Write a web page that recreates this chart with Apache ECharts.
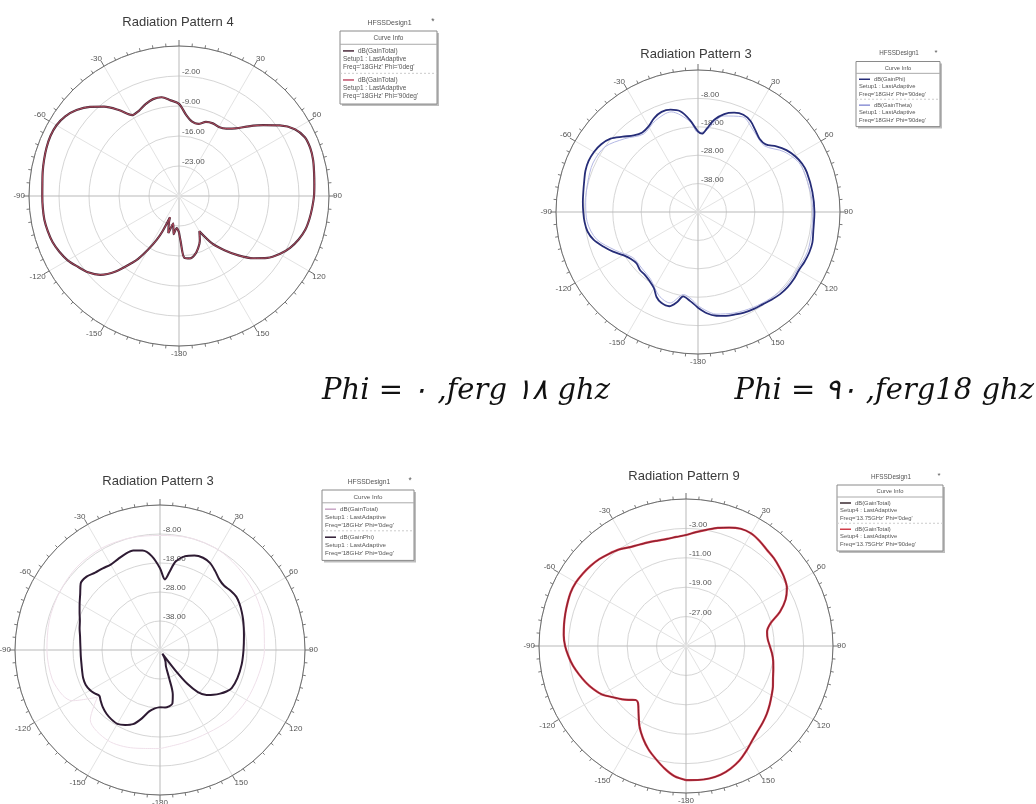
<!DOCTYPE html>
<html><head><meta charset="utf-8">
<script src="https://cdn.jsdelivr.net/npm/echarts@6/dist/echarts.min.js"></script>
<style>html,body{margin:0;padding:0;background:#fff}#c{width:1036px;height:804px}</style>
</head><body><div id="c"></div>
<script>
// ---------- DATA (angle in degrees, gain in dB) ----------
// Radiation Pattern 4 (top-left), Phi = 0
const P4_ANGLES = [-180,-176,-172,-168,-164,-160,-157,-155,-153,-150,-147,-145,-140,-135,-130,-125,-120,-115,-110,-105,-100,-95,-90,-85,-80,-75,-70,-65,-60,-55,-50,-45,-40,-35,-30,-25,-20,-15,-10,-5,0,5,10,15,20,25,30,35,40,45,50,55,60,65,70,75,80,85,90,95,100,105,110,115,120,125,130,135,140,145,150,155,160,165,170,175,178,180];
const P4_GAIN = [-21.5,-22.5,-21,-23.5,-21,-23,-24.6,-21,-18.5,-15.5,-12.5,-11,-7,-4,-2.3,-1.2,0,0.8,1.4,1.7,1.9,1.9,1.9,2.0,2.3,2.6,2.9,3.1,3.0,2.4,1.2,-0.6,-2.8,-5.5,-8.2,-8.0,-7.2,-6.6,-6.6,-7.6,-8.5,-11,-12.4,-12.6,-11.6,-11.3,-11.4,-10.8,-9.4,-7,-4.3,-1.3,1.2,2.4,2.6,2.4,2.0,1.7,1.5,1.2,0.9,0.5,-0.3,-1.4,-2.9,-4.8,-7.4,-10.4,-13.5,-16.4,-20.5,-18.5,-17,-15.8,-15.2,-15.5,-19.5,-21.5];

// Radiation Pattern 3 (top-right), Phi = 90
const P3A_ANGLES = [-180,-175,-170,-167,-163,-158,-154,-150,-145,-140,-135,-130,-125,-120,-115,-110,-105,-100,-95,-90,-85,-80,-75,-70,-65,-60,-55,-50,-45,-40,-35,-30,-25,-20,-15,-10,-5,0,3,6,10,15,20,25,30,35,40,45,50,55,60,65,70,80,90,100,105,110,115,120,125,130,135,140,145,150,155,160,165,170,175,180];
const P3A_GAIN_PHI = [-14.3,-16.5,-17.8,-15.5,-13.3,-13.5,-14.7,-17,-18.3,-19,-19.1,-19.8,-19.2,-17.6,-15,-12.5,-10,-8.5,-7.9,-7.6,-7.3,-7.0,-6.5,-5.8,-5.5,-5.7,-6.4,-7.8,-10.5,-12.8,-13.8,-13.2,-11.5,-10.5,-10.7,-12,-15.5,-19.6,-20.4,-18.5,-15,-12.3,-10.8,-10.2,-11,-12.8,-14.3,-14.3,-12,-10,-8.6,-7.6,-7.2,-7.1,-7.0,-6.8,-6.3,-6.3,-6.6,-7.0,-6.8,-6.8,-7.1,-7.7,-8.3,-8.6,-9.0,-9.6,-10.1,-10.9,-12.2,-14.3];
const P3A_ANGLES_B = [-180,-170,-163,-155,-145,-135,-125,-115,-105,-95,-85,-75,-65,-55,-45,-35,-25,-15,-5,0,5,15,25,35,45,55,65,80,90,100,110,120,130,140,150,160,170,180];
const P3A_GAIN_THETA = [-15,-18.5,-14.5,-15.5,-19,-20,-20,-16,-11,-8.8,-8.3,-7.8,-7.2,-8,-11.5,-14.5,-12.5,-11.5,-16,-20,-19.5,-13,-11,-13.5,-15,-11,-8.3,-7.8,-7.6,-7.4,-7,-7.6,-7.5,-8.3,-9.2,-10.2,-11.5,-15];

// Radiation Pattern 3 (bottom-left)
const P3B_ANGLES = [-180,-175,-170,-165,-160,-155,-150,-145,-140,-135,-130,-127,-123,-120,-115,-110,-105,-100,-95,-90,-85,-80,-75,-70,-65,-60,-55,-50,-45,-40,-35,-30,-25,-20,-15,-10,-5,0,4,7,10,15,20,25,30,35,40,45,50,55,60,65,70,75,80,90,100,110,118,122,126,130,134,138,141,143,145,147,150,155,160,162,164,167,171,175,180];
const P3B_GAIN_PHI = [-28.3,-27.8,-26.5,-23.5,-20.8,-19.5,-18.6,-18.8,-19.3,-20.1,-21.2,-21.8,-20.8,-20.2,-19.7,-19.8,-20.2,-20.5,-20.6,-20.6,-20.4,-20,-19.3,-18.6,-17.4,-16,-14.4,-12.3,-12.2,-13.2,-13.6,-14,-13.5,-12.8,-12.5,-13.2,-15.5,-19.8,-23.6,-20.8,-17,-14.5,-13.3,-12.9,-13.4,-14.8,-16.2,-16.7,-16.2,-15.9,-16.3,-16.9,-17.5,-18.1,-18.6,-19.2,-19.4,-19.6,-20,-21,-22.4,-24,-25.7,-28.5,-33,-39,-45,-46.5,-45,-43.5,-42,-38,-32,-29,-28.3,-28.1,-28.3];
const P3B_ANGLES_T = [-180,-165,-150,-135,-127,-120,-115,-105,-90,-75,-60,-45,-30,-15,0,15,30,45,60,75,90,105,120,135,150,165,180];
const P3B_GAIN_TOTAL = [-14,-13,-12,-14,-21,-13,-11,-9.5,-9,-8.5,-8,-7.5,-7.5,-8,-8.5,-8,-8,-9,-10,-11,-12,-13,-13.5,-14,-15,-15,-14];

// Radiation Pattern 9 (bottom-right)
const P9_ANGLES = [-180,-175,-170,-165,-160,-155,-150,-145,-140,-137,-134,-130,-125,-120,-115,-110,-105,-100,-95,-90,-85,-80,-75,-70,-65,-60,-55,-50,-45,-40,-35,-30,-25,-20,-15,-10,-5,0,5,10,15,20,25,30,35,40,45,50,55,60,65,70,75,80,85,90,95,100,105,110,115,120,125,130,135,140,145,150,155,160,165,170,175,180];
const P9_GAIN = [1.5,0.6,-1.2,-3.2,-5.1,-7.3,-9.7,-12.5,-14.7,-14.9,-13.9,-12.4,-10.7,-8.6,-7.2,-6,-4.9,-3.8,-2.9,-2.1,-1.6,-1.3,-1.0,-0.7,-0.4,-0.4,-0.7,-1.1,-1.6,-2.3,-3.0,-4.0,-4.6,-5.0,-5.3,-5.4,-5.2,-4.8,-3.9,-2.9,-1.7,-0.7,0.2,0.4,-0.1,-0.8,-1.2,-1.8,-2.4,-3.3,-5.1,-7.8,-11.2,-12.6,-12.7,-12.2,-11.5,-10.9,-10.4,-9.8,-8.9,-8.1,-7.2,-6.3,-5.5,-4.7,-3.6,-2.1,-0.6,0.5,1.3,1.6,1.6,1.5];

// Text
const TITLES = ['Radiation Pattern 4','Radiation Pattern 3','Radiation Pattern 3','Radiation Pattern 9'];
const LEG_HEAD = 'HFSSDesign1';
const LEG_P4 = [['dB(GainTotal)','Setup1 : LastAdaptive',"Freq='18GHz' Phi='0deg'"],['dB(GainTotal)','Setup1 : LastAdaptive',"Freq='18GHz' Phi='90deg'"]];
const LEG_P3A = [['dB(GainPhi)','Setup1 : LastAdaptive',"Freq='18GHz' Phi='90deg'"],['dB(GainTheta)','Setup1 : LastAdaptive',"Freq='18GHz' Phi='90deg'"]];
const LEG_P3B = [['dB(GainTotal)','Setup1 : LastAdaptive',"Freq='18GHz' Phi='0deg'"],['dB(GainPhi)','Setup1 : LastAdaptive',"Freq='18GHz' Phi='0deg'"]];
const LEG_P9 = [['dB(GainTotal)','Setup4 : LastAdaptive',"Freq='13.75GHz' Phi='0deg'"],['dB(GainTotal)','Setup4 : LastAdaptive',"Freq='13.75GHz' Phi='90deg'"]];
const CAPTIONS = ['Phi = \u0660 ,ferg \u0661\u0668 ghz', 'Phi = \u0669\u0660 ,ferg18 ghz'];

// ---------- LAYOUT ----------
const SANS = '"Liberation Sans", Arial, sans-serif';
const PLOTS = [
  {center:[179,196], radius:150, rMin:-30, rMax:5,  step:7,  title:[178,16],
   series:[{a:P4_ANGLES,g:P4_GAIN,color:'#4a2b3b',w:2.2},{a:P4_ANGLES,g:P4_GAIN,color:'#b24a5c',w:1}],
   leg:{x:340,top:31,w:97,lh:8.3,entries:LEG_P4,colors:['#4a2b3b','#c0506a']}},
  {center:[698,212], radius:142, rMin:-48, rMax:2,  step:10, title:[696,48],
   series:[{a:P3A_ANGLES_B,g:P3A_GAIN_THETA,color:'#b4b8e4',w:1},{a:P3A_ANGLES,g:P3A_GAIN_PHI,color:'#262d78',w:1.8}],
   leg:{x:856,top:61.5,w:84,lh:7.4,entries:LEG_P3A,colors:['#262d78','#8d93d6']}},
  {center:[160,650], radius:145, rMin:-48, rMax:2,  step:10, title:[158,475],
   series:[{a:P3B_ANGLES_T,g:P3B_GAIN_TOTAL,color:'#efe0ea',w:1},{a:P3B_ANGLES,g:P3B_GAIN_PHI,color:'#2e1b33',w:2}],
   leg:{x:322,top:490,w:92,lh:8,entries:LEG_P3B,colors:['#c9a6c6','#2e1b33']}},
  {center:[686,646], radius:147, rMin:-35, rMax:5,  step:8,  title:[684,470],
   series:[{a:P9_ANGLES,g:P9_GAIN,color:'#cf3645',w:2.2},{a:P9_ANGLES,g:P9_GAIN,color:'#6a1a2a',w:0.8}],
   leg:{x:837,top:485,w:106,lh:7.5,entries:LEG_P9,colors:['#3a2a30','#d0404c']}}
];

function toPts(angles, gains){ return angles.map((a,k)=>[gains[k], a<0 ? a+360 : a]); }
function angleLabel(v){ if (v===0||v===360) return ''; if (v===180) return '-180'; return String(v>180 ? v-360 : v); }

const option = {
  animation:false, backgroundColor:'#fff',
  title:[], polar:[], angleAxis:[], radiusAxis:[], series:[], graphic:[]
};

PLOTS.forEach((p,i)=>{
  option.title.push({text:TITLES[i], left:p.title[0], top:p.title[1], textAlign:'center', padding:0,
    textStyle:{fontSize:13, fontWeight:'normal', color:'#3a3a3a', fontFamily:SANS}});
  option.polar.push({center:p.center, radius:p.radius});
  option.angleAxis.push({polarIndex:i, type:'value', min:0, max:360, interval:30, startAngle:90, clockwise:true,
    axisLine:{show:true, lineStyle:{color:'#6e6e6e', width:1}},
    axisTick:{show:true, length:6, lineStyle:{color:'#6e6e6e'}},
    minorTick:{show:true, splitNumber:6, length:3, lineStyle:{color:'#7a7a7a'}},
    axisLabel:{margin:4, fontSize:8, color:'#555', fontFamily:SANS, formatter:angleLabel},
    splitLine:{show:true, lineStyle:{color:['#b9b9b9','#e3e3e3','#e3e3e3'], width:1}}
  });
  const mn=p.rMin, mx=p.rMax;
  option.radiusAxis.push({polarIndex:i, type:'value', min:mn, max:mx, interval:p.step,
    axisLine:{show:false}, axisTick:{show:false},
    axisLabel:{fontSize:8, color:'#555', fontFamily:SANS, margin:-3, align:'left', verticalAlign:'bottom',
      formatter:v=> (v<=mn+1e-6||v>=mx-1e-6) ? '' : v.toFixed(2)},
    splitLine:{show:true, lineStyle:{color:'#d6d6d6', width:1}}
  });
  p.series.forEach(s=>{
    option.series.push({type:'line', coordinateSystem:'polar', polarIndex:i, data:toPts(s.a,s.g),
      showSymbol:false, symbol:'none', smooth:0.3, silent:true, lineStyle:{color:s.color, width:s.w}});
  });
  // legend box
  const L=p.leg, fs=Math.max(5, L.lh*0.78), els=[];
  const bottom=L.top+8.8*L.lh;
  els.push({type:'rect', shape:{x:L.x+2, y:L.top+2, width:L.w, height:bottom-L.top}, style:{fill:'#bdbdbd'}});
  els.push({type:'rect', shape:{x:L.x, y:L.top, width:L.w, height:bottom-L.top}, style:{fill:'#fff', stroke:'#8a8a8a', lineWidth:1}});
  els.push({type:'text', x:L.x+L.w/2+1, y:L.top-8, style:{text:LEG_HEAD, fill:'#555', font:(fs+0.5)+'px '+SANS, align:'center', verticalAlign:'middle'}});
  els.push({type:'text', x:L.x+L.w-4, y:L.top-9, style:{text:'*', fill:'#555', font:(fs+2)+'px '+SANS, align:'center', verticalAlign:'middle'}});
  els.push({type:'text', x:L.x+L.w/2, y:L.top+0.9*L.lh, style:{text:'Curve Info', fill:'#555', font:fs+'px '+SANS, align:'center', verticalAlign:'middle'}});
  els.push({type:'line', shape:{x1:L.x, y1:L.top+1.6*L.lh, x2:L.x+L.w, y2:L.top+1.6*L.lh}, style:{stroke:'#aaa', lineWidth:1}});
  L.entries.forEach((ent,k)=>{
    const base=L.top+(2.4+k*3.5)*L.lh;
    if (k>0) els.push({type:'line', shape:{x1:L.x, y1:base-0.8*L.lh, x2:L.x+L.w, y2:base-0.8*L.lh}, style:{stroke:'#ccc', lineWidth:1, lineDash:[2,2]}});
    els.push({type:'line', shape:{x1:L.x+3, y1:base, x2:L.x+14, y2:base}, style:{stroke:L.colors[k], lineWidth:1.5}});
    ent.forEach((t,j)=>{
      els.push({type:'text', x: j===0 ? L.x+18 : L.x+3, y:base+j*L.lh, style:{text:t, fill:'#555', font:fs+'px '+SANS, align:'left', verticalAlign:'middle'}});
    });
  });
  option.graphic.push({type:'group', silent:true, children:els});
});

// captions
const CAP_FONT = 'italic 29px "DejaVu Serif", serif';
option.graphic.push({type:'text', x:322, y:391, silent:true, style:{text:CAPTIONS[0], fill:'#111', font:CAP_FONT, align:'left', verticalAlign:'middle'}});
option.graphic.push({type:'text', x:1034, y:391, silent:true, style:{text:CAPTIONS[1], fill:'#111', font:CAP_FONT, align:'right', verticalAlign:'middle'}});

const chart = echarts.init(document.getElementById('c'));
chart.setOption(option);
</script>
</body></html>
